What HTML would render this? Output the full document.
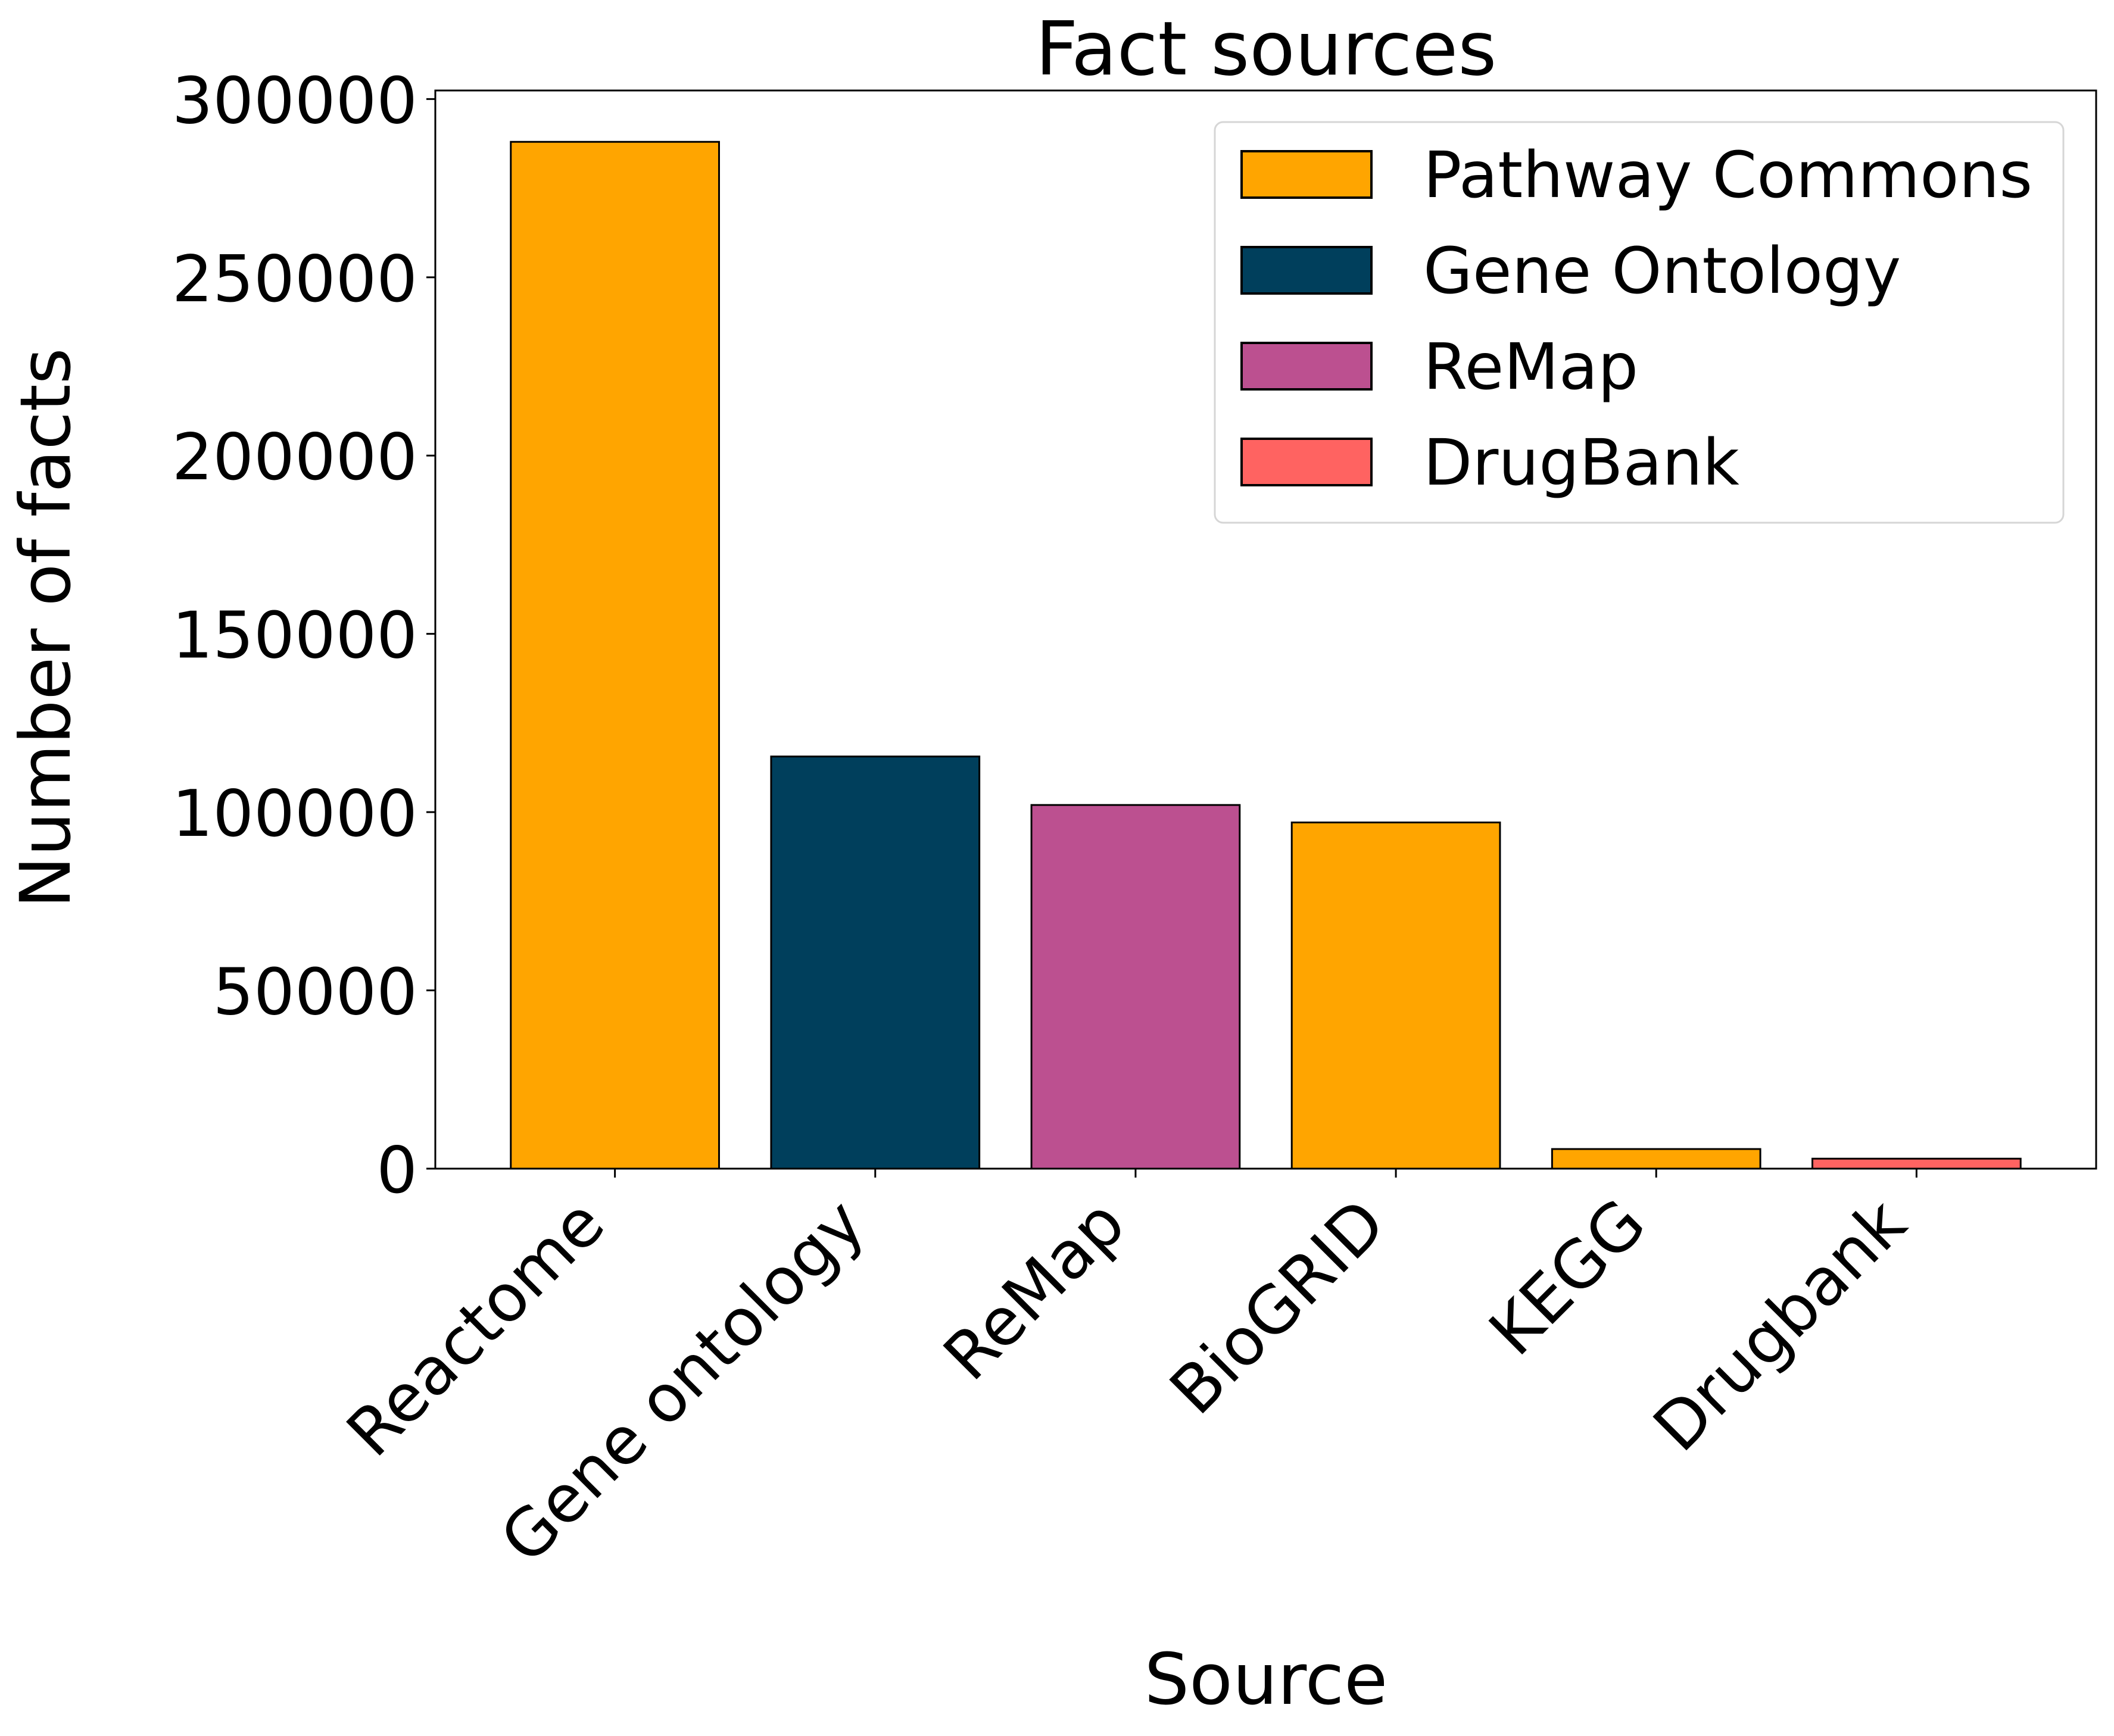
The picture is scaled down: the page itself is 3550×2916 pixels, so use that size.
<!DOCTYPE html>
<html><head><meta charset="utf-8">
<style>
html,body{margin:0;padding:0;background:#fff;}
svg{display:block;}
text{font-family:"DejaVu Sans","Liberation Sans",sans-serif;fill:#000;}
</style></head>
<body>
<svg id="chart" width="3550" height="2916" viewBox="0 0 3550 2916" xmlns="http://www.w3.org/2000/svg">
<rect x="0" y="0" width="3550" height="2916" fill="#fff"/>
<text x="2126" y="125" font-size="125" text-anchor="middle">Fact sources</text>
<text transform="translate(117,1055) rotate(-90)" font-size="117" text-anchor="middle">Number of facts</text>
<text x="2126" y="2862" font-size="119" text-anchor="middle">Source</text>
<g id="bars"></g>
<g id="yticks"></g>
<g id="xticks"></g>
<rect x="731" y="152" width="2789" height="1811" fill="none" stroke="#000" stroke-width="3"/>
<g id="legend">
<rect x="2040" y="205" width="1425" height="673" rx="14" fill="#fff" fill-opacity="0.8" stroke="#d6d6d6" stroke-width="3"/>
</g>
</svg>
<script>
const categories = ["Reactome","Gene ontology","ReMap","BioGRID","KEGG","Drugbank"];
const values = [288000, 115600, 102000, 97100, 5500, 2800];
const barSources = ["Pathway Commons","Gene Ontology","ReMap","Pathway Commons","Pathway Commons","DrugBank"];
const legendLabels = ["Pathway Commons","Gene Ontology","ReMap","DrugBank"];
const legendColors = ["#FFA500","#003F5C","#BC5090","#FF6361"];
const yTicks = [0,50000,100000,150000,200000,250000,300000];

const NS="http://www.w3.org/2000/svg";
const L=731,R=3520,T=152,B=1963;
const n=categories.length;
const xMin=-0.4-0.05*(n-1+0.8), xMax=(n-1)+0.4+0.05*(n-1+0.8);
const yMax=Math.max(...values)*1.05;
function xs(v){return L+(v-xMin)/(xMax-xMin)*(R-L);}
function ys(v){return B-v/yMax*(B-T);}
function mk(tag,attrs,parent){const e=document.createElementNS(NS,tag);for(const k in attrs)e.setAttribute(k,attrs[k]);parent.appendChild(e);return e;}
function colorOf(src){return legendColors[legendLabels.indexOf(src)];}

const gB=document.getElementById('bars');
categories.forEach((c,i)=>{
  const x0=xs(i-0.4),x1=xs(i+0.4),y=ys(values[i]);
  const r=mk('rect',{x:x0,y:y,width:x1-x0,height:B-y,fill:colorOf(barSources[i]),stroke:'#000','stroke-width':3},gB);
  
  
});

const gY=document.getElementById('yticks');
yTicks.forEach(t=>{
  const y=ys(t);
  const l=mk('line',{x1:L-15,x2:L,y1:y,y2:y,stroke:'#000','stroke-width':3},gY);
  
  
  const tx=mk('text',{x:L-30,y:y+40,'font-size':108,'text-anchor':'end'},gY);
  tx.textContent=String(t);
  
  
});

const gX=document.getElementById('xticks');
categories.forEach((c,i)=>{
  const x=xs(i);
  const l=mk('line',{x1:x,x2:x,y1:B,y2:B+15,stroke:'#000','stroke-width':3},gX);
  
  
  const ax=x-12, ay=2062;
  const tx=mk('text',{x:ax,y:ay,'font-size':110,'text-anchor':'end',transform:'rotate(-45 '+ax+' '+ay+')'},gX);
  tx.textContent=c;
  
  
});

const gL=document.getElementById('legend');
legendLabels.forEach((lab,i)=>{
  const y0=254+i*161;
  const r=mk('rect',{x:2085,y:y0,width:218,height:78,fill:legendColors[i],stroke:'#000','stroke-width':4},gL);
  
  
  const t=mk('text',{x:2390,y:y0+77,'font-size':107},gL);
  t.textContent=lab;
  
  
});
</script>
</body></html>
